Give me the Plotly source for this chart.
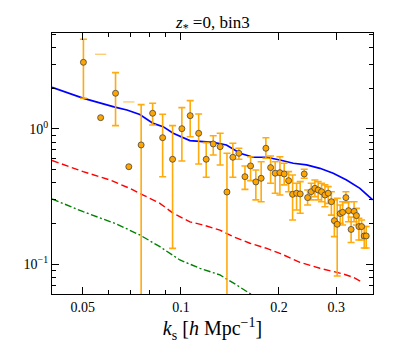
import plotly.graph_objects as go
import numpy as np

# measured band powers (k in h/Mpc)
k_data = [0.0502, 0.0630, 0.0755, 0.0819, 0.0879, 0.0943, 0.1007, 0.1068, 0.1134, 0.1196,
          0.1257, 0.1320, 0.1385, 0.1444, 0.1507, 0.1573, 0.1637, 0.1699, 0.1764, 0.1824,
          0.1886, 0.1948, 0.2014, 0.2076, 0.2142, 0.2203, 0.2266, 0.2325, 0.2392, 0.2450,
          0.2513, 0.2579, 0.2640, 0.2704, 0.2769, 0.2834, 0.2898, 0.2960, 0.3020, 0.3085,
          0.3138, 0.3212, 0.3273, 0.3332, 0.3403, 0.3460, 0.3521, 0.3589, 0.3656, 0.3708]
p_data = [3.11, 1.836, 0.762, 1.306, 0.862, 0.597, 1.005, 1.254, 0.929, 0.597,
          0.775, 0.740, 0.342, 0.618, 0.661, 0.444, 0.533, 0.406, 0.432, 0.720,
          0.518, 0.471, 0.475, 0.465, 0.415, 0.329, 0.335, 0.331, 0.465, 0.311,
          0.344, 0.364, 0.354, 0.344, 0.325, 0.335, 0.290, 0.210, 0.1975, 0.237,
          0.242, 0.311, 0.249, 0.181, 0.246, 0.229, 0.190, 0.190, 0.162, 0.162]
p_upper = [4.60, 2.607, 1.512, 1.549, 1.284, 1.058, 1.437, 1.619, 1.291, 0.792,
           0.892, 0.929, 0.661, 0.784, 0.720, 0.533, 0.624, 0.498, 0.573, 0.862,
           0.632, 0.573, 0.624, 0.558, 0.484, 0.457, 0.397, 0.408, 0.504, 0.354,
           0.397, 0.420, 0.408, 0.397, 0.386, 0.375, 0.344, 0.299, 0.3075, 0.274,
           0.290, 0.344, 0.290, 0.223, 0.290, 0.259, 0.219, 0.2125, 0.190, 0.190]
p_lower = [1.686, 1.058, 0.03, 1.071, 0.444, 0.131, 0.580, 0.877, 0.551, 0.440,
           0.642, 0.542, 0.02, 0.440, 0.597, 0.358, 0.415, 0.299, 0.290, 0.607,
           0.397, 0.335, 0.325, 0.386, 0.344, 0.2125, 0.252, 0.238, 0.432, 0.274,
           0.299, 0.316, 0.299, 0.290, 0.2665, 0.282, 0.231, 0.160, 0.082, 0.201,
           0.195, 0.285, 0.206, 0.145, 0.206, 0.195, 0.151, 0.151, 0.132, 0.132]

# points whose lower error goes negative (only upper cap shows on log axis)
k_neg = [0.0567, 0.0692]
p_neg = [1.212, 0.526]
p_neg_upper = [3.565, 1.584]

# model curves
k_blue = [0.0402, 0.0500, 0.0627, 0.0683, 0.0748, 0.0822, 0.0882, 0.0947, 0.1066, 0.1257,
          0.1380, 0.1520, 0.1667, 0.1834, 0.2014, 0.2213, 0.2432, 0.2672, 0.2936, 0.3226,
          0.3546, 0.3880]
p_blue = [2.03, 1.69, 1.45, 1.38, 1.28, 1.10, 1.04, 0.929, 0.820, 0.797,
          0.762, 0.661, 0.618, 0.618, 0.590, 0.558, 0.542, 0.512, 0.471, 0.420,
          0.364, 0.299]
k_red = [0.0402, 0.0501, 0.0605, 0.0697, 0.0766, 0.0862, 0.0947, 0.1066, 0.1171, 0.1318,
         0.1447, 0.1629, 0.1836, 0.2014, 0.2320, 0.2672, 0.3152, 0.3382, 0.3630]
p_red = [0.585, 0.484, 0.420, 0.364, 0.325, 0.282, 0.238, 0.206, 0.195, 0.179,
         0.160, 0.143, 0.131, 0.1205, 0.1034, 0.0934, 0.0848, 0.0801, 0.0731]
k_green = [0.0402, 0.0501, 0.0634, 0.0748, 0.0862, 0.0993, 0.1144, 0.1318, 0.1483, 0.1629, 0.1748]
p_green = [0.304, 0.2447, 0.1986, 0.1647, 0.1349, 0.1076, 0.0934, 0.0834, 0.0703, 0.0611, 0.0545]

x_ticks = [0.05, 0.1, 0.2, 0.3]
x_minor = [0.04, 0.06, 0.07, 0.08, 0.09]
y_ticks = [0.1, 1]
y_ticktext = ["10<sup>\u22121</sup>", "10<sup>0</sup>"]
y_minor = [0.06, 0.07, 0.08, 0.09, 0.2, 0.3, 0.4, 0.5, 0.6, 0.7, 0.8, 0.9, 2, 3, 4, 5]

FONT = "Liberation Serif"
orange = "#FFA500"
bar_col = "rgba(255,165,0,0.95)"

p = np.array(p_data)
err_plus = np.array(p_upper) - p
err_minus = p - np.array(p_lower)

fig = go.Figure()

fig.add_trace(go.Scatter(x=k_blue, y=p_blue, mode="lines",
                         line=dict(color="#0000FF", width=1.7), showlegend=False))
fig.add_trace(go.Scatter(x=k_red, y=p_red, mode="lines",
                         line=dict(color="#FF0000", width=1.4, dash="7px,3.5px"), showlegend=False))
fig.add_trace(go.Scatter(x=k_green, y=p_green, mode="lines",
                         line=dict(color="#008000", width=1.4, dash="7px,2.5px,2px,2.5px"),
                         showlegend=False))

# upper caps of the points with negative lower bound
fig.add_trace(go.Scatter(x=k_neg, y=p_neg_upper, mode="markers",
                         marker=dict(symbol="line-ew", size=8,
                                     line=dict(color="rgba(255,190,80,0.85)", width=1.3)),
                         showlegend=False))
fig.add_trace(go.Scatter(x=k_neg, y=p_neg, mode="markers",
                         marker=dict(size=6, color=orange, line=dict(color="#444", width=0.8)),
                         showlegend=False))

fig.add_trace(go.Scatter(
    x=k_data, y=p_data, mode="markers",
    marker=dict(size=6, color=orange, line=dict(color="#444", width=0.8)),
    error_y=dict(type="data", symmetric=False, array=err_plus, arrayminus=err_minus,
                 color=bar_col, thickness=1.6, width=3.5),
    showlegend=False))

axis_common = dict(
    type="log", showgrid=False, zeroline=False,
    showline=True, linecolor="black", linewidth=1.3, mirror="allticks",
    ticks="inside", ticklen=7, tickwidth=1.1, tickcolor="black",
    tickfont=dict(family=FONT, size=14, color="black"),
)

fig.update_xaxes(
    **axis_common,
    range=[np.log10(0.0402), np.log10(0.389)],
    tickvals=x_ticks, ticktext=["0.05", "0.1", "0.2", "0.3"],
    minor=dict(tickvals=x_minor, ticks="inside", ticklen=4, tickwidth=1, tickcolor="black"),
    title=dict(text="<i>k</i><sub>s</sub> [<i>h</i> Mpc<sup>\u22121</sup>]",
               font=dict(family=FONT, size=20, color="black"), standoff=0),
)
fig.update_yaxes(
    **axis_common,
    range=[np.log10(0.0603), np.log10(5.12)],
    tickvals=y_ticks, ticktext=y_ticktext,
    minor=dict(tickvals=y_minor, ticks="inside", ticklen=4, tickwidth=1, tickcolor="black"),
)

# the page body keeps an 8px margin, so the figure is 8px smaller on each axis
fig.update_layout(
    width=407, height=338,
    margin=dict(l=44, r=42, t=25, b=52),
    paper_bgcolor="white", plot_bgcolor="white",
    annotations=[dict(text="<i>z</i><sub>*</sub> =0, bin3", xref="paper", yref="paper",
                      x=0.5, y=1.0, xanchor="center", yanchor="bottom", yshift=-4,
                      showarrow=False, font=dict(family=FONT, size=17, color="black"))],
)

fig.write_html("out.html")
